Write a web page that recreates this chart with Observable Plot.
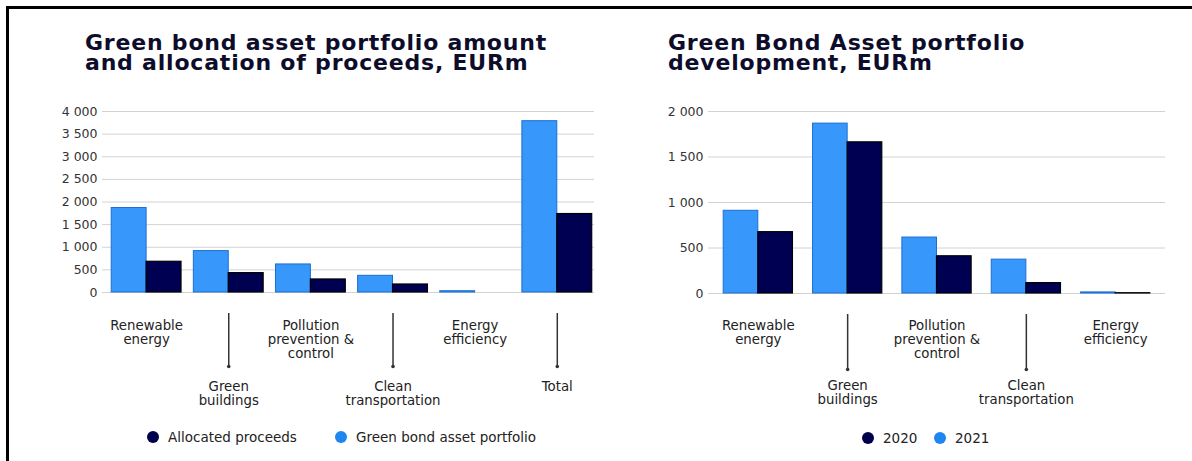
<!DOCTYPE html>
<html><head><meta charset="utf-8">
<script src="https://cdn.jsdelivr.net/npm/d3@7"></script>
<script src="https://cdn.jsdelivr.net/npm/@observablehq/plot@0.6"></script>
<style>
html,body{margin:0;padding:0;background:#fff;}
#root{position:relative;width:1192px;height:461px;overflow:hidden;background:#fff;font-family:"DejaVu Sans",sans-serif;}
.frameTop{position:absolute;left:6px;top:6px;right:0;height:3px;background:#000;}
.frameLeft{position:absolute;left:6px;top:6px;bottom:0;width:3px;background:#000;}
.title{position:absolute;font-family:"DejaVu Sans",sans-serif;font-weight:700;font-size:22px;letter-spacing:0.8px;line-height:19px;height:19px;color:#0d0d2b;white-space:nowrap;}
.chart{position:absolute;top:90px;}
.lg{position:absolute;display:flex;align-items:center;font-size:13.5px;color:#222;white-space:nowrap;}
.sw{display:inline-block;width:12px;height:12px;border-radius:50%;margin-right:9px;}
</style></head>
<body>
<div id="root">
  <div class="frameTop"></div>
  <div class="frameLeft"></div>
  <div class="title" style="left:85px;top:33px;">Green bond asset portfolio amount</div>
  <div class="title" style="left:85px;top:53px;">and allocation of proceeds, EURm</div>
  <div class="title" style="left:668px;top:33px;">Green Bond Asset portfolio</div>
  <div class="title" style="left:668px;top:53px;">development, EURm</div>
  <div id="left" class="chart" style="left:0px;"></div>
  <div id="right" class="chart" style="left:600px;"></div>
  <div class="lg" style="left:147px;top:429px;"><span class="sw" style="background:#00004d"></span>Allocated proceeds</div>
  <div class="lg" style="left:335px;top:429px;"><span class="sw" style="background:#1f86f0"></span>Green bond asset portfolio</div>
  <div class="lg" style="left:862px;top:430px;"><span class="sw" style="background:#00004d"></span>2020</div>
  <div class="lg" style="left:934px;top:430px;"><span class="sw" style="background:#1f86f0"></span>2021</div>
</div>
<script>
// ---- Left chart data ----
const leftCategories = ["Renewable energy","Green buildings","Pollution prevention & control","Clean transportation","Energy efficiency","Total"];
const leftLabels = ["Renewable\nenergy","Green\nbuildings","Pollution\nprevention &\ncontrol","Clean\ntransportation","Energy\nefficiency","Total"];
const leftPortfolio = [1867, 915, 620, 369, 28, 3786];
const leftAllocated = [679, 428, 288, 177, 0, 1734];
const leftTicks = [0, 500, 1000, 1500, 2000, 2500, 3000, 3500, 4000];

// ---- Right chart data ----
const rightCategories = ["Renewable energy","Green buildings","Pollution prevention & control","Clean transportation","Energy efficiency"];
const rightLabels = ["Renewable\nenergy","Green\nbuildings","Pollution\nprevention &\ncontrol","Clean\ntransportation","Energy\nefficiency"];
const right2021 = [909, 1867, 615, 372, 12];
const right2020 = [674, 1661, 409, 114, 3];
const rightTicks = [0, 500, 1000, 1500, 2000];

const BLUE = "#3797fa", BLUE_EDGE = "#1b6fd4", DARK = "#000052";
const fmt = d => d3.format(",")(d).replace(/,/g, " ");

function grouped(o) {
  const rows = o.cats.map((c, i) => ({cat: c, label: o.labels[i], a: o.a[i], b: o.b[i], lower: i % 2 === 1}));
  const upper = rows.filter(r => !r.lower), lower = rows.filter(r => r.lower);
  const bw = d3.scaleBand().domain(o.cats)
    .range([o.marginLeft, o.width - o.marginRight])
    .paddingInner(o.padIn).paddingOuter(o.padOut).align(o.align).bandwidth();
  const half = bw / 2;
  return Plot.plot({
    width: o.width, height: o.height,
    marginLeft: o.marginLeft, marginRight: o.marginRight, marginTop: o.marginTop, marginBottom: o.marginBottom,
    style: {fontFamily: "'DejaVu Sans', sans-serif", fontSize: "12.5px", color: "#333", background: "transparent", overflow: "visible"},
    x: {domain: o.cats, axis: null, paddingInner: o.padIn, paddingOuter: o.padOut, align: o.align, round: false},
    y: {domain: o.domain, ticks: o.ticks, tickFormat: fmt, tickSize: 0, tickPadding: 5, label: null},
    marks: [
      Plot.ruleY(o.ticks, {stroke: "#d2d2d2", strokeWidth: 1}),
      Plot.barY(rows, {x: "cat", y: "a", fill: BLUE, stroke: BLUE_EDGE, strokeWidth: 1, insetRight: half}),
      Plot.barY(rows, {x: "cat", y: "b", fill: DARK, stroke: "#000", strokeWidth: 1.2, insetLeft: half}),
      Plot.text(upper, {x: "cat", y: d => 0, text: "label", lineAnchor: "top", dy: o.upperDy, fill: "#222", fontSize: 13.3, lineHeight: 1.06}),
      Plot.text(lower, {x: "cat", y: d => 0, text: "label", lineAnchor: "top", dy: o.lowerDy, fill: "#222", fontSize: 13.3, lineHeight: 1.06}),
      Plot.ruleX(lower, {x: "cat", y1: d => 0, y2: d => 0, insetTop: o.ruleTop, insetBottom: -o.ruleBottom, stroke: "#333", strokeWidth: 1.5}),
      Plot.dot(lower, {x: "cat", y: d => 0, dy: o.ruleBottom, r: 1.8, fill: "#333", stroke: "none"})
    ]
  });
}

document.getElementById("left").appendChild(grouped({
  cats: leftCategories, labels: leftLabels, a: leftPortfolio, b: leftAllocated,
  width: 600, height: 330, marginLeft: 102, marginRight: 6, marginTop: 21, marginBottom: 128,
  domain: [0, 4000], ticks: leftTicks, padIn: 0.15, padOut: 0.07, align: 0.8,
  upperDy: 27, lowerDy: 88, ruleTop: 21, ruleBottom: 74
}));

document.getElementById("right").appendChild(grouped({
  cats: rightCategories, labels: rightLabels, a: right2021, b: right2020,
  width: 592, height: 330, marginLeft: 108, marginRight: 27, marginTop: 21, marginBottom: 127,
  domain: [0, 2000], ticks: rightTicks, padIn: 0.225, padOut: 0.17, align: 0.5,
  upperDy: 26, lowerDy: 86, ruleTop: 21, ruleBottom: 76
}));
</script>
</body></html>
